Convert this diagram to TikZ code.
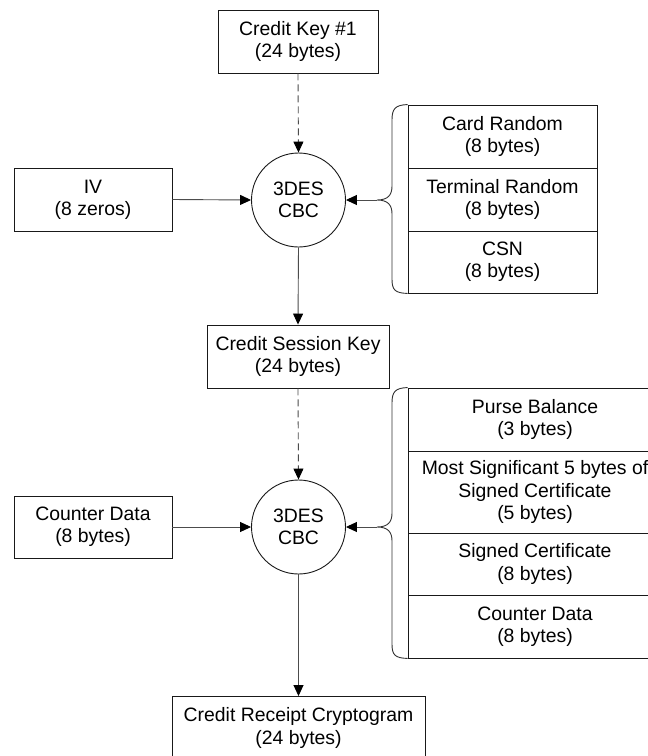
\documentclass[tikz,border=0pt]{standalone}
\usepackage{fontspec}
\setmainfont{Liberation Sans}
\usetikzlibrary{arrows.meta}
\begin{document}
\begin{tikzpicture}[x=1pt,y=-1pt,
  every node/.style={font=\fontsize{19.4pt}{22.3pt}\selectfont, align=center, inner sep=0pt},
  box/.style={draw=black!90, line width=0.9pt, rectangle, minimum height=63pt},
  cell/.style={draw=black!90, line width=0.9pt, rectangle},
  cipher/.style={draw=black!90, line width=0.9pt, circle, minimum size=94pt},
  conn/.style={draw=black!70, line width=0.9pt, -{Triangle[length=11pt,width=10pt,color=black]}},
  dconn/.style={conn, dash pattern=on 7pt off 4pt},
  brace/.style={draw=black!80, line width=0.9pt}]
\useasboundingbox (0,0) rectangle (648,756);
\fill[white] (0,0) rectangle (648,756);

% first stage
\node[box, minimum width=160pt] (key1) at (298,41.5) {Credit Key \#1\\(24 bytes)};
\node[box, minimum width=158pt] (iv) at (93,199.5) {IV\\(8 zeros)};
\node[cipher] (c1) at (298.5,200) {3DES\\CBC};
\node[cell, minimum width=189pt, minimum height=63pt] (s1a) at (502.5,136.5) {Card Random\\(8 bytes)};
\node[cell, minimum width=189pt, minimum height=63pt] (s1b) at (502.5,199.5) {Terminal Random\\(8 bytes)};
\node[cell, minimum width=189pt, minimum height=62pt] (s1c) at (502.5,262) {CSN\\(8 bytes)};
\coordinate (b1) at (377,200);

% session key
\node[box, minimum width=182pt] (sess) at (298,356.5) {Credit Session Key\\(24 bytes)};

% second stage
\node[box, minimum width=158pt, minimum height=62pt] (cnt) at (93,527) {Counter Data\\(8 bytes)};
\node[cipher] (c2) at (298.5,527) {3DES\\CBC};
\node[cell, minimum width=254pt, minimum height=63pt] (s2a) at (535,419.5) {Purse Balance\\(3 bytes)};
\node[cell, minimum width=254pt, minimum height=82pt] (s2b) at (535,492) {Most Significant 5 bytes of\\Signed Certificate\\(5 bytes)};
\node[cell, minimum width=254pt, minimum height=62pt] (s2c) at (535,564) {Signed Certificate\\(8 bytes)};
\node[cell, minimum width=254pt, minimum height=63pt] (s2d) at (535,626.5) {Counter Data\\(8 bytes)};
\coordinate (b2) at (377,527);

% output
\node[box, minimum width=253pt] (final) at (298.5,728) {Credit Receipt Cryptogram\\(24 bytes)};

% braces
\draw[brace] (s1a.north west) .. controls (395,105) and (392,109) .. (392,120)
  -- (392,186) .. controls (392,195) and (388,200) .. (b1)
  .. controls (388,200) and (392,205) .. (392,214)
  -- (392,279) .. controls (392,290) and (395,293) .. (s1c.south west);
\draw[brace] (s2a.north west) .. controls (395,388) and (392,392) .. (392,403)
  -- (392,513) .. controls (392,522) and (388,527) .. (b2)
  .. controls (388,527) and (392,532) .. (392,541)
  -- (392,644) .. controls (392,655) and (395,658) .. (s2d.south west);

% connectors
\draw[dconn] (key1.south) -- (c1.north);
\draw[conn] (iv.east) -- (c1.west);
\draw[conn] (b1) -- (c1.east);
\draw[conn] (c1.south) -- (sess.north);
\draw[dconn] (sess.south) -- (c2.north);
\draw[conn] (cnt.east) -- (c2.west);
\draw[conn] (b2) -- (c2.east);
\draw[conn] (c2.south) -- (final.north);
\end{tikzpicture}
\end{document}
